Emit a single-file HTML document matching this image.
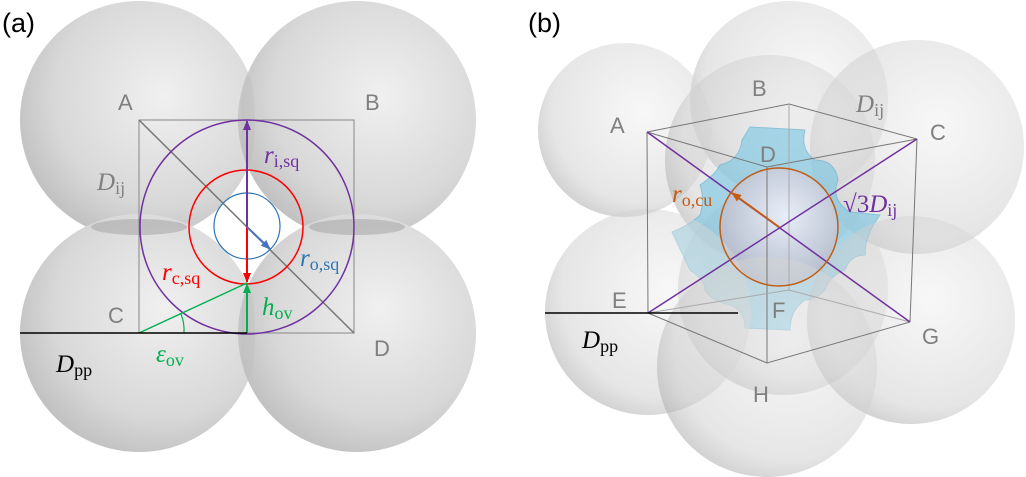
<!DOCTYPE html>
<html><head><meta charset="utf-8"><style>
body{margin:0;background:#fff}
svg{display:block}
text{font-family:"Liberation Sans",sans-serif}
.lab{fill:#7f7f7f;font-size:22px}
.m{font-family:"Liberation Serif",serif;font-style:italic;font-size:25px}
.s{font-family:"Liberation Serif",serif;font-style:normal;font-size:18px}
</style></head><body>
<svg width="1026" height="477" viewBox="0 0 1026 477" xmlns="http://www.w3.org/2000/svg">
<defs>
<radialGradient id="sp" cx="0.6" cy="0.4" r="0.65">
<stop offset="0" stop-color="#f0f0f0"/><stop offset="0.7" stop-color="#d8d8d8"/><stop offset="1" stop-color="#c0c0c0"/>
</radialGradient>
<radialGradient id="spt" cx="0.6" cy="0.4" r="0.65">
<stop offset="0" stop-color="#eee" stop-opacity="0.45"/><stop offset="0.8" stop-color="#ccc" stop-opacity="0.5"/><stop offset="1" stop-color="#aaa" stop-opacity="0.55"/>
</radialGradient>
<radialGradient id="inner" cx="0.55" cy="0.4" r="0.6">
<stop offset="0" stop-color="#e8eef8"/><stop offset="1" stop-color="#b4bccc"/>
</radialGradient>
<marker id="ap" markerUnits="userSpaceOnUse" markerWidth="10" markerHeight="10" refX="9" refY="5" orient="auto"><path d="M0,1 L10,5 L0,9z" fill="#7030a0"/></marker>
<marker id="ar" markerUnits="userSpaceOnUse" markerWidth="10" markerHeight="10" refX="9" refY="5" orient="auto"><path d="M0,1 L10,5 L0,9z" fill="#f00"/></marker>
<marker id="ag" markerUnits="userSpaceOnUse" markerWidth="10" markerHeight="10" refX="9" refY="5" orient="auto"><path d="M0,1 L10,5 L0,9z" fill="#00b050"/></marker>
<marker id="ab" markerUnits="userSpaceOnUse" markerWidth="10" markerHeight="10" refX="9" refY="5" orient="auto"><path d="M0,1 L10,5 L0,9z" fill="#4472c4"/></marker>
<marker id="ao" markerUnits="userSpaceOnUse" markerWidth="10" markerHeight="10" refX="9" refY="5" orient="auto"><path d="M0,1 L10,5 L0,9z" fill="#c55a11"/></marker>
</defs>

<!-- Panel a -->
<circle cx="139" cy="120" r="119" fill="url(#sp)"/>
<circle cx="357" cy="120" r="119" fill="url(#sp)"/>
<circle cx="139" cy="333" r="119" fill="url(#sp)"/>
<circle cx="357" cy="333" r="119" fill="url(#sp)"/>
<ellipse cx="139" cy="227" rx="48" ry="8" fill="#999" opacity="0.45"/>
<ellipse cx="357" cy="227" rx="48" ry="8" fill="#999" opacity="0.45"/>
<ellipse cx="248" cy="120" rx="7" ry="45" fill="#bbb" opacity="0.3"/>
<ellipse cx="248" cy="333" rx="7" ry="45" fill="#bbb" opacity="0.3"/>
<path d="M247,195 Q232,222 205,227 Q232,232 247,260 Q262,232 292,227 Q262,222 247,195z" fill="#fff"/>
<rect x="139" y="120" width="215" height="213" fill="none" stroke="#888" stroke-width="1"/>
<line x1="139" y1="120" x2="354" y2="333" stroke="#777" stroke-width="1.5"/>
<circle cx="247" cy="227" r="107" fill="none" stroke="#7030a0" stroke-width="1.5"/>
<circle cx="246" cy="227" r="57" fill="none" stroke="#f00" stroke-width="1.5"/>
<circle cx="247" cy="226" r="33" fill="none" stroke="#2e75b6" stroke-width="1.2"/>
<line x1="247" y1="227" x2="247" y2="121" stroke="#7030a0" stroke-width="2" marker-end="url(#ap)"/>
<line x1="247" y1="227" x2="247" y2="282" stroke="#f00" stroke-width="2" marker-end="url(#ar)"/>
<line x1="247" y1="333" x2="247" y2="284" stroke="#00b050" stroke-width="2" marker-end="url(#ag)"/>
<line x1="247" y1="227" x2="270" y2="249" stroke="#4472c4" stroke-width="2" marker-end="url(#ab)"/>
<line x1="139" y1="333" x2="247" y2="283" stroke="#00b050" stroke-width="1.5"/>
<path d="M181,314 A44,44 0 0 1 184,333" fill="none" stroke="#00b050" stroke-width="1.2"/>
<line x1="20" y1="333" x2="247" y2="333" stroke="#000" stroke-width="1.5"/>
<text x="2" y="32" font-size="27">(a)</text>
<text x="118" y="110" class="lab">A</text>
<text x="365" y="110" class="lab">B</text>
<text x="108" y="323" class="lab">C</text>
<text x="374" y="356" class="lab">D</text>
<text x="97" y="190" class="m" fill="#7f7f7f">D<tspan class="s" dy="4">ij</tspan></text>
<text x="264" y="163" class="m" fill="#7030a0">r<tspan class="s" dy="4">i,sq</tspan></text>
<text x="162" y="280" class="m" fill="#f00">r<tspan class="s" dy="4">c,sq</tspan></text>
<text x="300" y="266" class="m" fill="#2e75b6">r<tspan class="s" dy="4">o,sq</tspan></text>
<text x="262" y="315" class="m" fill="#00b050">h<tspan class="s" dy="4">ov</tspan></text>
<text x="156" y="362" class="m" fill="#00b050">ε<tspan class="s" dy="4">ov</tspan></text>
<text x="56" y="372" class="m" fill="#000">D<tspan class="s" dy="4">pp</tspan></text>

<!-- Panel b -->
<circle cx="789" cy="100" r="99" fill="url(#spt)"/>
<circle cx="625" cy="130" r="87" fill="url(#spt)"/>
<circle cx="917" cy="147" r="107" fill="url(#spt)"/>
<circle cx="783" cy="290" r="105" fill="url(#spt)"/>
<circle cx="770" cy="160" r="105" fill="url(#spt)"/>
<path d="M750,127 L805,130 Q800,150 815,160 Q835,160 838,180 Q830,200 850,212 L880,215 Q865,235 865,255 Q850,255 845,270 Q830,275 825,290 Q815,300 805,300 Q790,310 790,330 L745,328 Q745,310 730,305 Q710,300 705,290 Q705,280 690,270 L672,232 Q690,225 700,215 Q705,200 700,185 Q715,175 720,165 Q740,160 742,140z" fill="#7ec8e3" opacity="0.65" stroke="#5aaed0" stroke-width="1"/>
<circle cx="779" cy="227" r="58" fill="url(#inner)"/>
<circle cx="648" cy="312" r="103" fill="url(#spt)"/>
<circle cx="911" cy="320" r="104" fill="url(#spt)"/>
<circle cx="767" cy="367" r="110" fill="url(#spt)"/>
<g fill="none" stroke="#777" stroke-width="1">
<path d="M647,132 L789,104 L917,139 L767,167 Z"/>
<line x1="647" y1="132" x2="648" y2="313"/>
<line x1="917" y1="139" x2="910" y2="322"/>
<line x1="767" y1="167" x2="767" y2="363"/>
<path d="M648,313 L767,363 L910,322"/>
<path d="M648,313 L789,290 L910,322" stroke="#aaa"/>
<line x1="789" y1="104" x2="789" y2="290" stroke="#aaa"/>
</g>
<line x1="647" y1="132" x2="910" y2="322" stroke="#7030a0" stroke-width="1.5"/>
<line x1="917" y1="139" x2="648" y2="313" stroke="#7030a0" stroke-width="1.5"/>
<circle cx="779" cy="227" r="59" fill="none" stroke="#c55a11" stroke-width="1.5"/>
<line x1="779" y1="227" x2="732" y2="193" stroke="#c55a11" stroke-width="2" marker-end="url(#ao)"/>
<line x1="545" y1="313" x2="738" y2="313" stroke="#000" stroke-width="1.5"/>
<text x="528" y="32" font-size="27">(b)</text>
<text x="610" y="133" class="lab">A</text>
<text x="752" y="96" class="lab">B</text>
<text x="930" y="140" class="lab">C</text>
<text x="760" y="162" class="lab">D</text>
<text x="612" y="308" class="lab">E</text>
<text x="772" y="318" class="lab">F</text>
<text x="922" y="344" class="lab">G</text>
<text x="753" y="402" class="lab">H</text>
<text x="856" y="112" class="m" fill="#7f7f7f">D<tspan class="s" dy="4">ij</tspan></text>
<text x="672" y="202" class="m" fill="#c55a11">r<tspan class="s" dy="4">o,cu</tspan></text>
<text x="843" y="212" class="m" fill="#7030a0" style="font-style:normal">√3<tspan font-style="italic">D</tspan><tspan class="s" dy="4">ij</tspan></text>
<text x="582" y="348" class="m" fill="#000">D<tspan class="s" dy="4">pp</tspan></text>
</svg>
</body></html>
